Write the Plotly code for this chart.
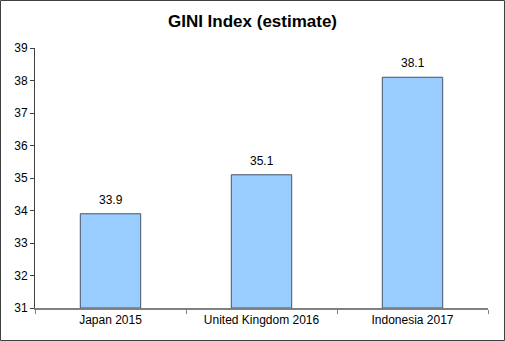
import plotly.graph_objects as go

categories = ["Japan 2015", "United Kingdom 2016", "Indonesia 2017"]
values = [33.9, 35.1, 38.1]
labels = ["33.9", "35.1", "38.1"]
baseline = 31

W, H = 505, 341
L, R, T, B = 35, 17, 48, 33
pw, ph = W - L - R, H - T - B

fig = go.Figure(go.Bar(
    x=categories, y=[v - baseline for v in values], base=baseline,
    marker=dict(color="#99CCFF", line=dict(color="#44546A", width=1)),
    width=0.4, hoverinfo="skip",
))

annotations = [dict(x=c, y=v, text=t, showarrow=False, yanchor="bottom", yshift=5,
                    font=dict(family="Liberation Sans, Arial", size=12, color="#000000"))
               for c, v, t in zip(categories, values, labels)]

fig.update_layout(
    width=W, height=H,
    margin=dict(l=L, r=R, t=T, b=B),
    paper_bgcolor="white", plot_bgcolor="white",
    title=dict(text="<b>GINI Index (estimate)</b>", x=0.5, xanchor="center",
               y=1 - 21 / H, yanchor="middle",
               font=dict(family="Liberation Sans, Arial", size=17, color="#000000")),
    showlegend=False,
    font=dict(family="Liberation Sans, Arial", size=12, color="#000000"),
    xaxis=dict(showline=True, linecolor="#808080", linewidth=2,
               tickson="boundaries", ticks="outside", ticklen=4, tickcolor="#808080",
               showgrid=False, tickfont=dict(size=12)),
    yaxis=dict(range=[31, 39], dtick=1, showline=True, linecolor="#404040", linewidth=1,
               ticks="outside", ticklen=4, tickcolor="#404040", showgrid=False,
               zeroline=False, tickfont=dict(size=12)),
    annotations=annotations,
    shapes=[dict(type="rect", xref="paper", yref="paper",
                 x0=(-L + 0.5) / pw, x1=(pw + R - 0.5) / pw,
                 y0=(-B + 0.5) / ph, y1=(ph + T - 0.5) / ph,
                 line=dict(color="#404040", width=1), layer="above")],
)
fig.write_html("out.html")
